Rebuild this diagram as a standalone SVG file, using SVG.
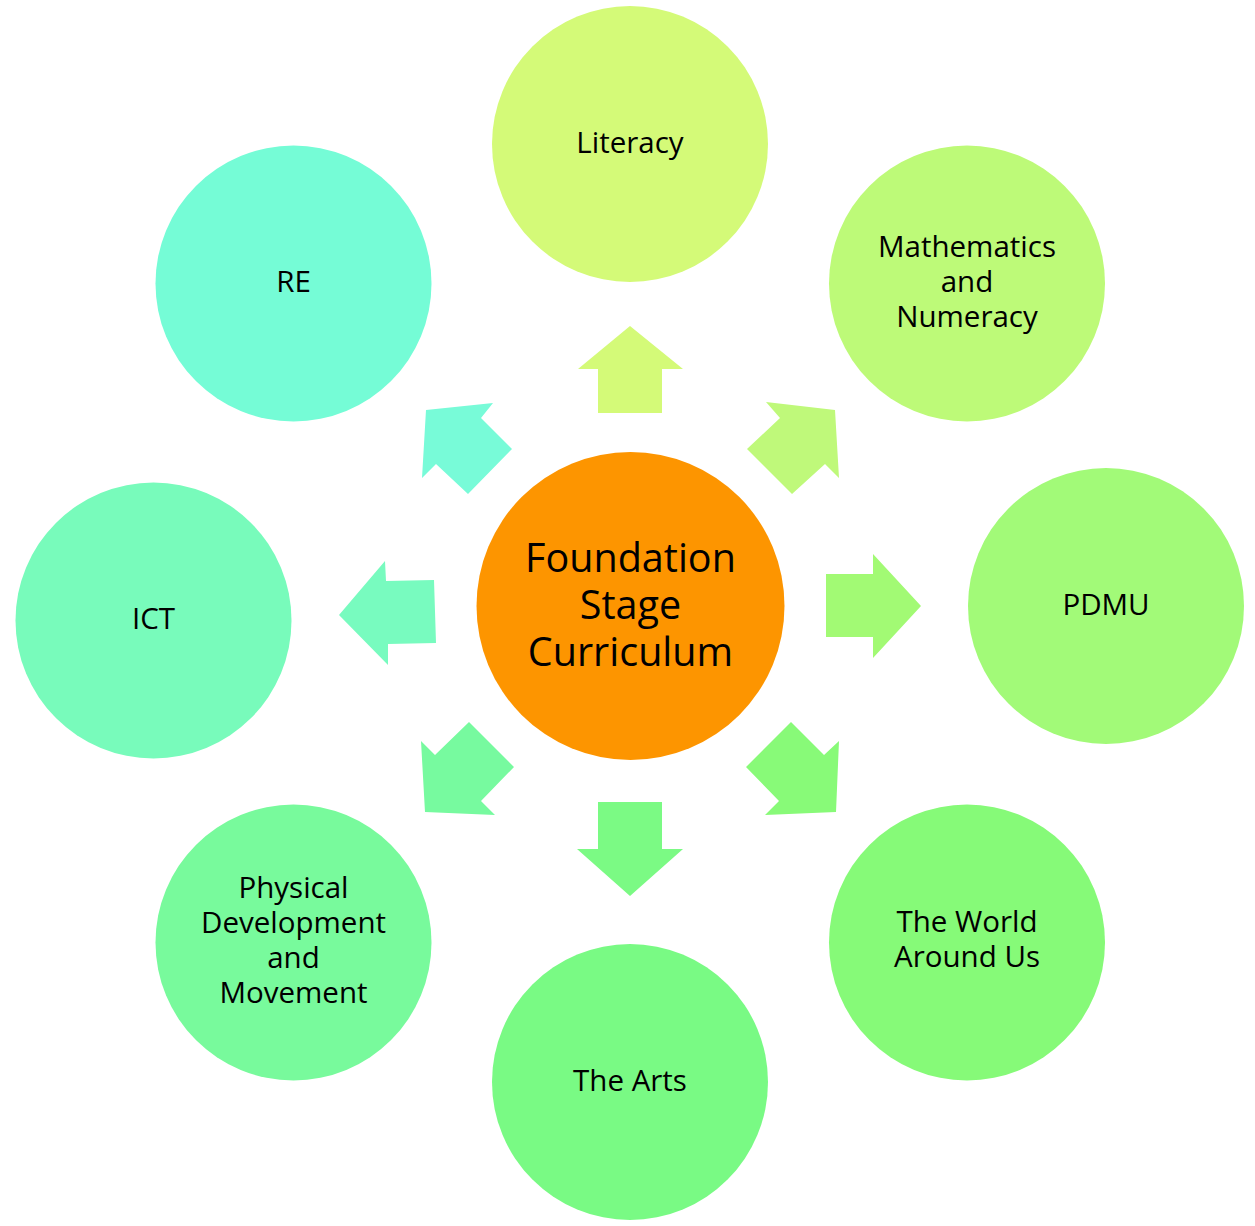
<svg xmlns="http://www.w3.org/2000/svg" width="1255" height="1226" viewBox="0 0 1255 1226">
<style>
text{font-family:"Open Sans","Liberation Sans",sans-serif;font-size:29.5px;fill:#000;text-anchor:middle}
.c{font-size:39.5px}
</style>
<rect width="1255" height="1226" fill="#fff"/>
<g id="connectors">
<polygon fill="#d4fa78" points="630,326 683,369 662,369 662,413 598,413 598,369 578,369"/>
<polygon fill="#bff97a" points="766,402 835,410 839,478 825,464 792,494 747,449 780,418"/>
<polygon fill="#a2fa74" points="826,574 873,574 873,554 921,606 873,658 873,637 826,637"/>
<polygon fill="#88fa78" points="791,722 824,755 839,741 836,812 765,815 779,801 746,767"/>
<polygon fill="#7bfa84" points="598,802 662,802 662,849 683,849 630,896 577,849 598,849"/>
<polygon fill="#77fa9f" points="469,722 514,767 481,801 495,815 425,812 421,741 435,755"/>
<polygon fill="#78fbbf" points="339,615 385,561 386,581 434,580 436,643 388,644 388,665"/>
<polygon fill="#78fbd8" points="493,403 481,418 512,449 468,494 436,464 422,478 426,410"/>
</g>
<g id="center"><circle cx="630.5" cy="606" r="154" fill="#fd9500"/>
<text class="c" x="630.5" y="572">Foundation</text><text class="c" x="630.5" y="619">Stage</text><text class="c" x="630.5" y="666">Curriculum</text></g>
<g id="literacy"><circle cx="630" cy="144" r="138" fill="#d4fa78"/><text x="630" y="153">Literacy</text></g>
<g id="maths"><circle cx="967" cy="283.5" r="138" fill="#bdfa78"/><text x="967" y="257">Mathematics</text><text x="967" y="292">and</text><text x="967" y="327">Numeracy</text></g>
<g id="pdmu"><circle cx="1106" cy="606" r="138" fill="#a2fa78"/><text x="1106" y="615">PDMU</text></g>
<g id="world"><circle cx="967" cy="942.5" r="138" fill="#86fa78"/><text x="967" y="932">The World</text><text x="967" y="967">Around Us</text></g>
<g id="arts"><circle cx="630" cy="1082" r="138" fill="#79fa84"/><text x="630" y="1091">The Arts</text></g>
<g id="physical"><circle cx="293.5" cy="942.5" r="138" fill="#78fa9c"/><text x="293.5" y="898">Physical</text><text x="293.5" y="933">Development</text><text x="293.5" y="968">and</text><text x="293.5" y="1003">Movement</text></g>
<g id="ict"><circle cx="153.5" cy="620.5" r="138" fill="#78fbbb"/><text x="153.5" y="629">ICT</text></g>
<g id="re"><circle cx="293.5" cy="283.5" r="138" fill="#75fcd6"/><text x="293.5" y="292">RE</text></g>
</svg>
